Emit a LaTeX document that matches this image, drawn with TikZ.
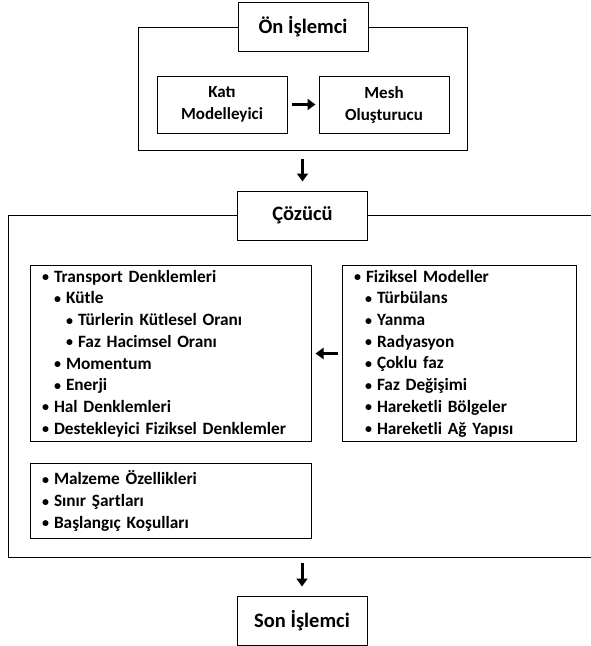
\documentclass[tikz,border=0pt]{standalone}
\usepackage{fontspec}
\setmainfont{Carlito}
\usepackage{tikz}
\usetikzlibrary{positioning, arrows.meta}
\newcommand{\madde}[2]{\hspace*{#1}\makebox[12pt][l]{\raisebox{0.5pt}{\fontsize{14}{14}\selectfont\textbullet}}#2}

\begin{document}
\begin{tikzpicture}[x=1pt, y=-1pt,
  kutu/.style={draw, line width=1pt, align=center, inner sep=0pt,
    font=\bfseries\fontsize{17}{22}\selectfont},
  baslik/.style={kutu, fill=white, minimum width=130pt, minimum height=49pt,
    font=\bfseries\fontsize{20.5}{24}\selectfont},
  liste/.style={draw, line width=1pt, align=left, inner xsep=12pt, inner ysep=0pt,
    font=\bfseries\fontsize{17.3}{21.7}\selectfont},
  ok/.style={line width=3pt, -{Triangle[length=8pt,width=11pt]}}]
\useasboundingbox (0,0) rectangle (591,646);
\clip (0,0) rectangle (591,646);

% on islemci
\node[kutu, minimum width=329pt, minimum height=123pt] (onframe) at (302.5,88.5) {};
\node[baslik] (on) at (303,27) {Ön İşlemci};
\node[kutu, minimum width=130pt, minimum height=57pt] (kati) at (222,104.5) {Katı\\Modelleyici};
\node[kutu, minimum width=130pt, minimum height=57pt] (mesh) at (384,104.5) {Mesh\\Oluşturucu};
\draw[ok, shorten <=4pt, shorten >=3pt] (kati) -- (mesh);

% cozucu
\node[kutu, anchor=north west, minimum width=620pt, minimum height=342pt] (cozframe) at (8,215) {};
\node[baslik] (coz) at (302.5,215.5) {Çözücü};
\draw[ok, shorten <=8pt, shorten >=9pt] (onframe) -- (coz);

\node[liste, text width=257pt, minimum height=176pt] (transport) at (170.5,353.5) {%
\madde{0pt}{Transport Denklemleri}\\
\madde{12pt}{Kütle}\\
\madde{24pt}{Türlerin Kütlesel Oranı}\\
\madde{24pt}{Faz Hacimsel Oranı}\\
\madde{12pt}{Momentum}\\
\madde{12pt}{Enerji}\\
\madde{0pt}{Hal Denklemleri}\\
\madde{0pt}{Destekleyici Fiziksel Denklemler}};
\node[liste, text width=210pt, minimum height=176pt] (fiziksel) at (459,353.5) {%
\madde{0pt}{Fiziksel Modeller}\\
\madde{11pt}{Türbülans}\\
\madde{11pt}{Yanma}\\
\madde{11pt}{Radyasyon}\\
\madde{11pt}{Çoklu faz}\\
\madde{11pt}{Faz Değişimi}\\
\madde{11pt}{Hareketli Bölgeler}\\
\madde{11pt}{Hareketli Ağ Yapısı}};
\draw[ok, shorten <=4pt, shorten >=4pt] (fiziksel) -- (transport);
\node[liste, text width=257pt, minimum height=75pt] (malzeme) at (170.5,501) {%
\madde{0pt}{Malzeme Özellikleri}\\
\madde{0pt}{Sınır Şartları}\\
\madde{0pt}{Başlangıç Koşulları}};

% son islemci
\node[baslik] (son) at (302,620.5) {Son İşlemci};
\draw[ok, shorten <=5pt, shorten >=9pt] (cozframe.south -| son.north) -- (son.north);
\end{tikzpicture}
\end{document}
